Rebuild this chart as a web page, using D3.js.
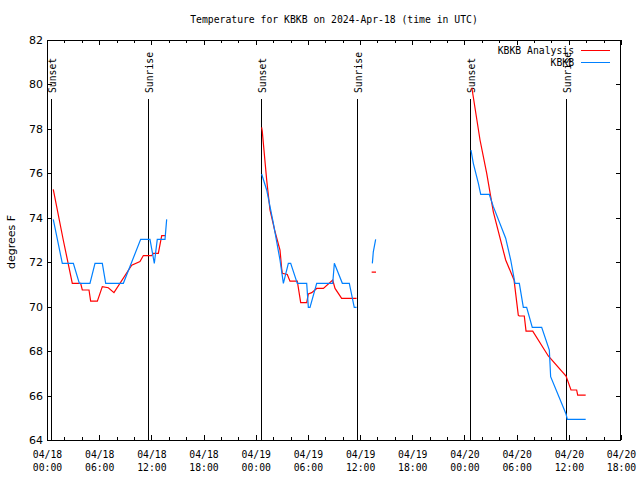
<!DOCTYPE html>
<html><head><meta charset="utf-8">
<script src="https://cdn.jsdelivr.net/npm/d3@7"></script>
<style>body{margin:0;background:#fff}svg{display:block}</style>
</head><body>
<svg id="c" width="640" height="480"></svg>
<script>
// ---- data (hours after 2024-04-18 00:00 UTC; null = gap) ----
const titleText = "Temperature for KBKB on 2024-Apr-18 (time in UTC)";
const yLabel = "degrees F";
const seriesNames = ["KBKB Analysis", "KBKB"];
const yTicks = [64, 66, 68, 70, 72, 74, 76, 78, 80, 82];

const analysisHours = [0.72, 1.87, 2.91, 3.87, 4.06, 4.83, 5.02, 5.79, 6.36, 7.05, 7.70, 9.74, 10.69, 11.08, 12.04, 12.22, 12.80, 13.19, 13.65,
  null,
  24.68, 24.75, 25.26, 25.64, 26.22, 26.79, 26.98, 27.06, 27.63, 27.94, 28.78, 29.17, 29.86, 30.05, 30.44, 31.01, 31.78, 32.85, 33.12, 33.88, 35.60,
  null,
  37.33, 37.83,
  null,
  48.85, 49.79, 50.56, 51.32, 52.74, 53.70, 54.19, 54.30, 54.88, 55.08, 55.85, 57.64, 59.68, 60.25, 60.90, 61.02, 61.94];
const analysisTemps = [75.28, 73.0, 71.05, 71.05, 70.75, 70.75, 70.25, 70.25, 70.9, 70.85, 70.63, 71.87, 72.03, 72.3, 72.3, 72.4, 72.4, 73.2, 73.2,
  null,
  78.07, 77.9, 75.7, 74.35, 73.37, 72.55, 71.73, 71.5, 71.45, 71.15, 71.15, 70.18, 70.18, 70.57, 70.63, 70.82, 70.82, 71.2, 70.82, 70.37, 70.37,
  null,
  71.55, 71.55,
  null,
  79.85, 77.5, 76.0, 74.27, 72.1, 71.2, 69.62, 69.58, 69.58, 68.9, 68.9, 67.78, 66.88, 66.25, 66.25, 66.02, 66.02];

const obsHours = [0.72, 1.76, 3.03, 3.72, 4.94, 5.52, 6.36, 6.75, 8.78, 10.77, 11.84, 12.34, 12.68, 13.57, 13.76,
  null,
  24.68, 25.26, 26.03, 26.79, 27.18, 27.75, 28.02, 28.78, 29.86, 30.05, 30.24, 31.01, 32.85, 33.04, 33.96, 34.76, 35.33, 35.60,
  null,
  37.41, 37.52, 37.79,
  null,
  48.75, 49.02, 49.60, 49.87, 50.86, 51.32, 52.74, 53.32, 53.81, 54.31, 54.77, 55.15, 55.80, 56.88, 57.76, 57.91, 59.68, 59.83, 61.94];
const obsTemps = [73.93, 71.95, 71.95, 71.05, 71.05, 71.95, 71.95, 71.05, 71.05, 73.03, 73.03, 71.95, 73.03, 73.03, 73.93,
  null,
  75.97, 75.25, 73.75, 72.1, 71.05, 71.95, 71.95, 71.05, 71.05, 69.97, 69.97, 71.05, 71.05, 71.95, 71.05, 71.05, 69.97, 69.97,
  null,
  71.95, 72.47, 73.03,
  null,
  77.05, 76.45, 75.55, 75.05, 75.05, 74.5, 73.08, 72.1, 71.05, 71.05, 69.97, 69.97, 69.07, 69.07, 68.05, 66.85, 65.17, 64.93, 64.93];

const sunLabels = ["Sunset", "Sunrise", "Sunset", "Sunrise", "Sunset", "Sunrise"];
const sunHours = [0.47, 11.67, 24.6, 35.64, 48.69, 59.71];

// ---- chart ----
const base = Date.UTC(2024, 3, 18);
const toDate = h => new Date(base + h * 3600e3);
const svg = d3.select("#c");
const L = 47, R = 621, T = 40, B = 440;
const mono = "DejaVu Sans Mono", sans = "DejaVu Sans";

const x = d3.scaleUtc().domain([toDate(0), toDate(66)]).range([L, R]);
const y = d3.scaleLinear().domain([64, 82]).range([B, T]);

svg.append("rect").attr("width", 640).attr("height", 480).attr("fill", "#fff");

// title
svg.append("text").attr("x", (L + R) / 2).attr("y", 23).attr("text-anchor", "middle")
  .attr("font-family", mono).attr("font-size", 9.75).text(titleText);

// y label
svg.append("text").attr("transform", "translate(15,242) rotate(-90)").attr("text-anchor", "middle")
  .attr("font-family", sans).attr("font-size", 11).text(yLabel);

function styleAxis(g) {
  g.select(".domain").remove();
  g.selectAll(".tick line").attr("stroke", "#000").attr("shape-rendering", "crispEdges");
}

// x axes (major + minor, bottom and top, inward ticks)
const major = d3.utcHour.every(6), minor = d3.utcHour.every(2);
const gxb = svg.append("g").attr("transform", `translate(0,${B})`)
  .call(d3.axisBottom(x).ticks(major).tickSize(-5).tickFormat(() => "")).call(styleAxis);
svg.append("g").attr("transform", `translate(0,${B})`)
  .call(d3.axisBottom(x).ticks(minor).tickSize(-3).tickFormat(() => "")).call(styleAxis);
svg.append("g").attr("transform", `translate(0,${T})`)
  .call(d3.axisTop(x).ticks(major).tickSize(-5).tickFormat(() => "")).call(styleAxis);
svg.append("g").attr("transform", `translate(0,${T})`)
  .call(d3.axisTop(x).ticks(minor).tickSize(-3).tickFormat(() => "")).call(styleAxis);

const fD = d3.utcFormat("%m/%d"), fT = d3.utcFormat("%H:%M");
gxb.selectAll(".tick text").each(function (d) {
  const t = d3.select(this).text(null).attr("y", 0).attr("dy", null)
    .attr("font-family", mono).attr("font-size", 9.75).attr("fill", "#000");
  t.append("tspan").attr("x", 0).attr("y", 18).text(fD(d));
  t.append("tspan").attr("x", 0).attr("y", 31).text(fT(d));
});

// y axes
svg.append("g").attr("transform", `translate(${L},0)`)
  .call(d3.axisLeft(y).tickValues(yTicks).tickSize(-5).tickPadding(4).tickFormat(d3.format("d")))
  .call(styleAxis)
  .call(g => g.selectAll(".tick text").attr("font-family", sans).attr("font-size", 11).attr("fill", "#000"));
svg.append("g").attr("transform", `translate(${R},0)`)
  .call(d3.axisRight(y).tickValues(yTicks).tickSize(-5).tickFormat(() => "")).call(styleAxis);

// border
svg.append("rect").attr("x", L + 0.5).attr("y", T + 0.5).attr("width", R - L - 1).attr("height", B - T)
  .attr("fill", "none").attr("stroke", "#000").attr("shape-rendering", "crispEdges");

// sunrise / sunset markers
sunHours.forEach((h, i) => {
  const sx = Math.round(x(toDate(h))) + 0.5;
  svg.append("line").attr("x1", sx).attr("x2", sx).attr("y1", 99).attr("y2", B)
    .attr("stroke", "#000").attr("shape-rendering", "crispEdges");
  svg.append("text").attr("transform", `translate(${sx + 4},93) rotate(-90)`)
    .attr("font-family", mono).attr("font-size", 9.75).text(sunLabels[i]);
});

// series
const mk = (hs, vs) => hs.map((h, i) => ({ h, v: vs[i] }));
const line = d3.line().defined(d => d.h != null && d.v != null)
  .x(d => x(toDate(d.h))).y(d => y(d.v));
const colors = ["#ff0000", "#0080ff"];
[mk(analysisHours, analysisTemps), mk(obsHours, obsTemps)].forEach((data, i) => {
  svg.append("path").datum(data).attr("d", line).attr("fill", "none")
    .attr("stroke", colors[i]).attr("stroke-width", 1.2);
});

// legend
seriesNames.forEach((n, i) => {
  const ly = 50 + i * 12;
  svg.append("text").attr("x", 574).attr("y", ly + 3.5).attr("text-anchor", "end")
    .attr("font-family", mono).attr("font-size", 9.75).text(n);
  svg.append("line").attr("x1", 581).attr("x2", 610).attr("y1", ly + 0.5).attr("y2", ly + 0.5)
    .attr("stroke", colors[i]).attr("stroke-width", 1).attr("shape-rendering", "crispEdges");
});
</script>
</body></html>
